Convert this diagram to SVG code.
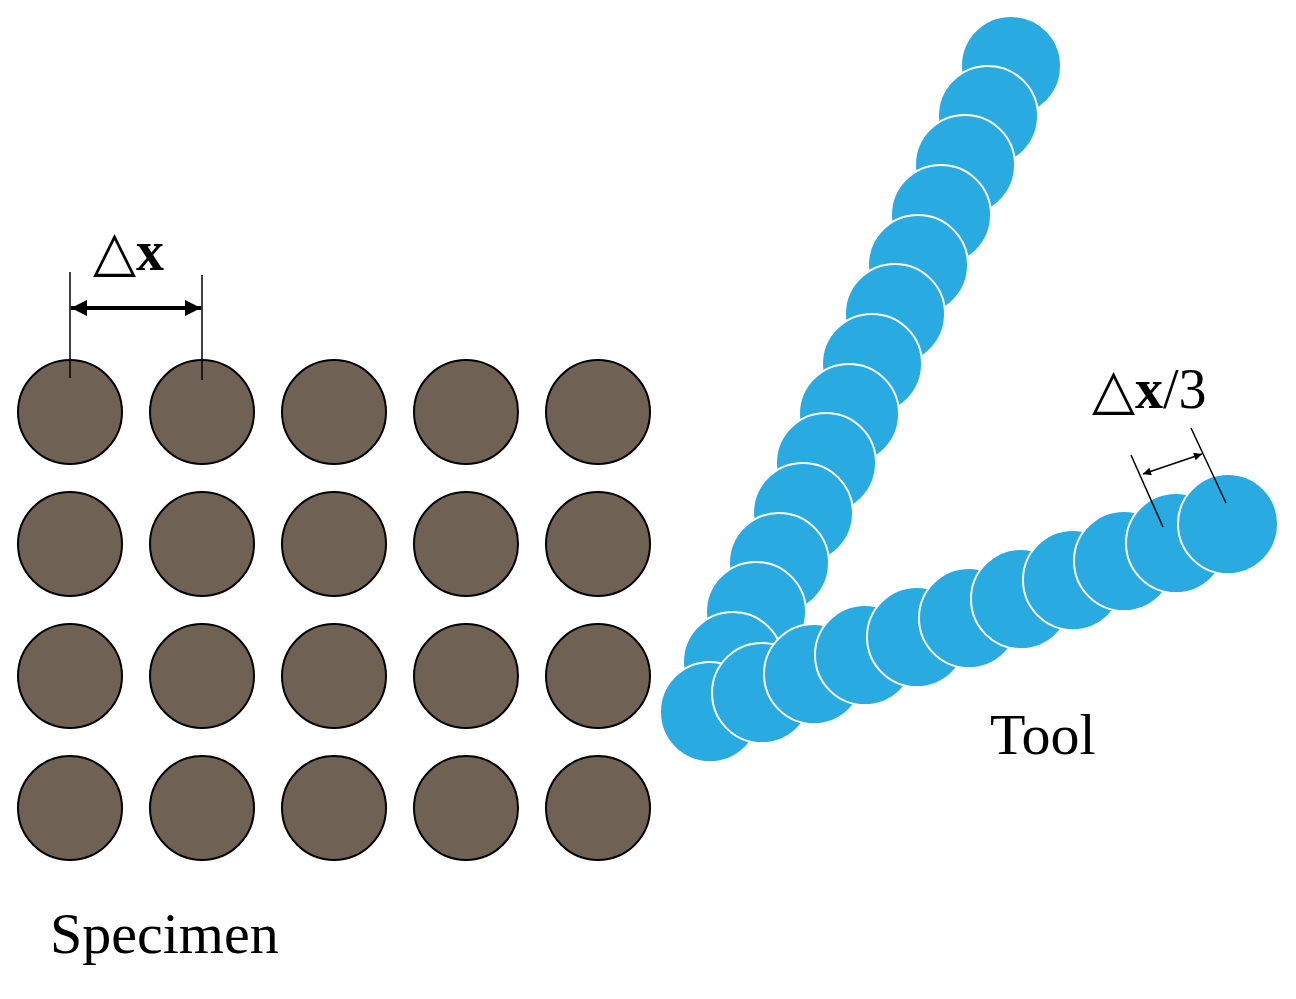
<svg xmlns="http://www.w3.org/2000/svg" width="1296" height="999" viewBox="0 0 1296 999">
<style>
.s{fill:#6f6254;stroke:#000;stroke-width:2}
.t{fill:#29abe2;stroke:#fff;stroke-width:2}
.l{stroke:#000;stroke-width:1.5;fill:none}
text{font-family:"Liberation Serif",serif;fill:#000}
</style>
<defs>
<marker id="a" viewBox="0 0 10 10" refX="10" refY="5" markerWidth="28" markerHeight="16" markerUnits="userSpaceOnUse" orient="auto-start-reverse"><path d="M0,0L10,5L0,10Z" fill="#000"/></marker>
<marker id="b" viewBox="0 0 10 10" refX="10" refY="5" markerWidth="14" markerHeight="8" markerUnits="userSpaceOnUse" orient="auto-start-reverse"><path d="M0,0L10,5L0,10Z" fill="#000"/></marker>
</defs>
<g id="specimen">
<circle class="s" cx="70" cy="412" r="52"/><circle class="s" cx="202" cy="412" r="52"/><circle class="s" cx="334" cy="412" r="52"/><circle class="s" cx="466" cy="412" r="52"/><circle class="s" cx="598" cy="412" r="52"/>
<circle class="s" cx="70" cy="544" r="52"/><circle class="s" cx="202" cy="544" r="52"/><circle class="s" cx="334" cy="544" r="52"/><circle class="s" cx="466" cy="544" r="52"/><circle class="s" cx="598" cy="544" r="52"/>
<circle class="s" cx="70" cy="676" r="52"/><circle class="s" cx="202" cy="676" r="52"/><circle class="s" cx="334" cy="676" r="52"/><circle class="s" cx="466" cy="676" r="52"/><circle class="s" cx="598" cy="676" r="52"/>
<circle class="s" cx="70" cy="808" r="52"/><circle class="s" cx="202" cy="808" r="52"/><circle class="s" cx="334" cy="808" r="52"/><circle class="s" cx="466" cy="808" r="52"/><circle class="s" cx="598" cy="808" r="52"/>
</g>
<g id="tool">
<circle class="t" cx="1011" cy="66" r="50"/><circle class="t" cx="988" cy="116" r="50"/><circle class="t" cx="965" cy="165" r="50"/><circle class="t" cx="941" cy="215" r="50"/><circle class="t" cx="918" cy="265" r="50"/><circle class="t" cx="895" cy="314" r="50"/><circle class="t" cx="872" cy="364" r="50"/><circle class="t" cx="849" cy="414" r="50"/><circle class="t" cx="826" cy="463" r="50"/><circle class="t" cx="803" cy="513" r="50"/><circle class="t" cx="779" cy="563" r="50"/><circle class="t" cx="756" cy="612" r="50"/><circle class="t" cx="733" cy="662" r="50"/><circle class="t" cx="710" cy="712" r="50"/>
<circle class="t" cx="762" cy="693" r="50"/><circle class="t" cx="814" cy="674" r="50"/><circle class="t" cx="865" cy="655" r="50"/><circle class="t" cx="917" cy="637" r="50"/><circle class="t" cx="969" cy="618" r="50"/><circle class="t" cx="1021" cy="599" r="50"/><circle class="t" cx="1073" cy="580" r="50"/><circle class="t" cx="1124" cy="561" r="50"/><circle class="t" cx="1176" cy="543" r="50"/><circle class="t" cx="1228" cy="524" r="50"/>
</g>
<g id="connectors">
<line class="l" x1="70" y1="272" x2="70" y2="378"/>
<line class="l" x1="202" y1="275" x2="202" y2="380"/>
<line x1="71" y1="308" x2="201" y2="308" stroke="#000" stroke-width="4" marker-start="url(#a)" marker-end="url(#a)"/>
<line class="l" x1="1226" y1="503" x2="1191" y2="428"/>
<line class="l" x1="1163" y1="527" x2="1131" y2="455"/>
<line x1="1143" y1="474" x2="1202" y2="454" stroke="#000" stroke-width="1.5" marker-start="url(#b)" marker-end="url(#b)"/>
</g>
<g id="labels">
<text x="93" y="270" font-size="56">△<tspan font-weight="bold">x</tspan></text>
<text x="1092" y="408" font-size="56">△<tspan font-weight="bold">x</tspan>/3</text>
<text x="990" y="754" font-size="58">Tool</text>
<text x="50" y="953" font-size="58">Specimen</text>
</g>
</svg>
